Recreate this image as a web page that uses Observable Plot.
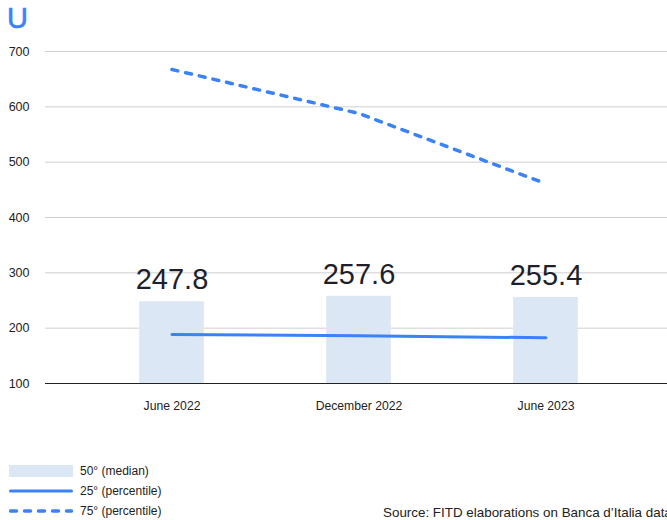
<!DOCTYPE html>
<html>
<head>
<meta charset="utf-8">
<script src="https://cdn.jsdelivr.net/npm/d3@7"></script>
<script src="https://cdn.jsdelivr.net/npm/@observablehq/plot@0.6"></script>
<style>
  html, body { margin: 0; padding: 0; background: #fff; }
  #wrap { position: relative; width: 667px; height: 520px; overflow: hidden; font-family: "Liberation Sans", Arial, sans-serif; color: #222; }
  #title { position: absolute; left: 7px; top: 1px; font-size: 29px; color: #3b82f6; line-height: 34px; -webkit-text-stroke: 0.6px #3b82f6; }
  #chart { position: absolute; left: 0; top: 36px; }
  .leg { position: absolute; left: 0; font-size: 12px; color: #222; white-space: nowrap; }
  .leg svg { position: absolute; left: 9px; top: 0; }
  .leg span { position: absolute; left: 80px; top: -7px; }
  #source { position: absolute; left: 383px; top: 505px; font-size: 13.4px; white-space: nowrap; color: #222; }
</style>
</head>
<body>
<div id="wrap">
  <div id="title">U</div>
  <div id="chart"></div>
  <div class="leg" style="top:471px"><svg width="64" height="14" style="top:-6px"><rect x="0" y="0" width="64" height="12" fill="#dce7f5"></rect></svg><span>50° (median)</span></div>
  <div class="leg" style="top:491px"><svg width="64" height="6" style="top:-3px"><line x1="1.5" y1="3" x2="62.5" y2="3" stroke="#3b82f6" stroke-width="3" stroke-linecap="round"></line></svg><span>25° (percentile)</span></div>
  <div class="leg" style="top:511px"><svg width="64" height="6" style="top:-3px"><line x1="1.5" y1="3" x2="62.5" y2="3" stroke="#3b82f6" stroke-width="3.5" stroke-linecap="round" stroke-dasharray="6 8"></line></svg><span>75° (percentile)</span></div>
  <div id="source">Source: FITD elaborations on Banca d’Italia data</div>
</div>
<script>
const periods = ["June 2022", "December 2022", "June 2023"];
const median = [247.8, 257.6, 255.4];
const p25 = [188.6, 186.5, 182.6];
const p75 = [667.5, 588, 461];
const yTicks = [100, 200, 300, 400, 500, 600, 700];

const rows = periods.map((p, i) => ({period: p, median: median[i], p25: p25[i], p75: p75[i]}));

const blue = "#3b82f6";
const chart = Plot.plot({
  width: 667,
  height: 390,
  marginTop: 15,
  marginBottom: 43,
  marginLeft: 45,
  marginRight: 0,
  style: {fontFamily: "Liberation Sans, Arial, sans-serif", color: "#222", background: "white"},
  x: {domain: periods, range: [77, 639], padding: 0, label: null},
  y: {domain: [100, 700], label: null},
  marks: [
    Plot.ruleY(yTicks.filter(d => d !== 100), {stroke: "#cfcfcf", strokeWidth: 1}),
    Plot.barY(rows, {x: "period", y1: 100, y2: "median", fill: "#dce7f5", insetLeft: 61.2, insetRight: 61.2}),
    Plot.ruleY([100], {stroke: "#222", strokeWidth: 1}),
    Plot.line(rows, {x: "period", y: "p25", stroke: blue, strokeWidth: 3, strokeLinecap: "round"}),
    Plot.line(rows, {x: "period", y: "p75", stroke: blue, strokeWidth: 3.5, strokeLinecap: "round", strokeDasharray: "6 8"}),
    Plot.text(rows, {x: "period", y: "median", text: d => d.median.toFixed(1), dy: -22, fontSize: 29, fill: "#1f1f2b"}),
    Plot.axisY(yTicks, {tickSize: 0, tickPadding: 16, fontSize: 12.5, label: null, fill: "#222"}),
    Plot.axisX({tickSize: 0, tickPadding: 18, fontSize: 12.2, label: null, fill: "#222"})
  ]
});
document.getElementById("chart").appendChild(chart);
</script>
</body>
</html>
